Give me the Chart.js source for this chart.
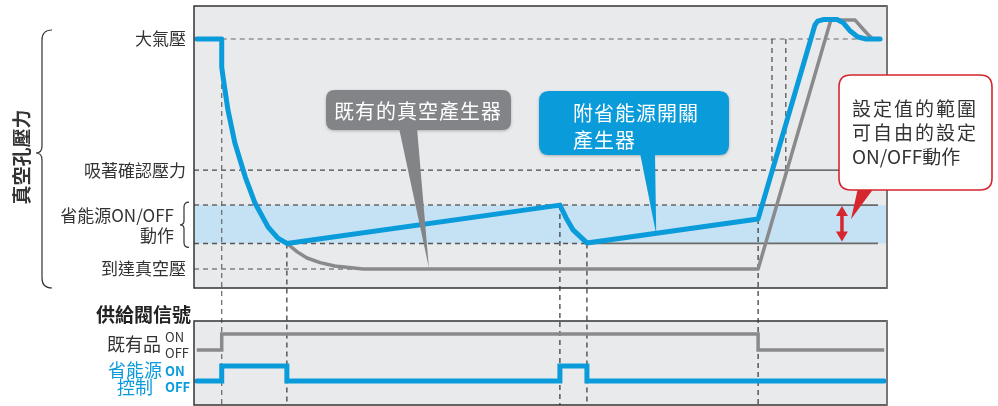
<!DOCTYPE html>
<html lang="zh-Hant">
<head>
    <meta charset="UTF-8">
    <title>省能源真空產生器</title>
    <script src="https://cdn.jsdelivr.net/npm/chart.js"></script>
    <style>
        body { margin: 0; background: #fff; }
        #wrap { width: 998px; height: 406px; }
    </style>
</head>
<body>
<div id="wrap"><canvas id="myChart" width="998" height="406"></canvas></div>
<script>
// time axis: 0..100 (arbitrary units), pressure: kPa relative to 大氣壓 (0)
const blueT = [0.4, 4.0, 4.0, 4.0, 4.2, 4.9, 5.9, 7.4, 8.8, 10.7, 12.1, 13.4, 52.8, 53.7, 54.7, 56.7, 81.4, 89.6, 90.0, 90.8, 92.8, 93.7, 94.7, 95.8, 97.0, 99.0];
const blueP = [0, 0, -6, -11, -15, -27.8, -40.7, -54, -64.2, -73.6, -77.9, -80, -65, -70, -74.7, -79.8, -70.4, 5.5, 7, 7.6, 7.6, 6.3, 3.1, 0.8, 0, 0];

const grayT = [0.4, 4.0, 4.0, 4.0, 4.2, 4.9, 5.9, 7.4, 8.8, 10.7, 12.1, 13.4, 14.9, 16.3, 18.2, 20.3, 24.4, 81.4, 91.9, 95.4, 96.4, 97.3, 97.8];
const grayP = [0, 0, -6, -11, -15, -27.8, -40.7, -54, -64.2, -73.6, -77.9, -80, -83.3, -85.7, -87.5, -88.8, -90, -90, 7.4, 7.4, 4.3, 1.6, 0.4];

// 供給閥信號 (1 = ON, 0 = OFF)
const sigOldT = [0.4, 4.0, 81.4, 99.6];
const sigOldV = [0, 1, 0, 0];
const sigNewT = [0.4, 4.0, 13.4, 52.8, 56.7, 99.6];
const sigNewV = [0, 1, 0, 1, 0, 0];

const levelNames = ['大氣壓', '吸著確認壓力', '到達真空壓'];
const levelValues = [0, -51.3, -90];
const bandHigh = -65;
const bandLow = -80;

// vertical guides: time, pressure where they start
const markT = [4.0, 13.4, 52.8, 56.7, 81.4];
const markP = [0, -80, -65, -80, -70.4];

const BLUE = '#0a9bdb';
const GRAY = '#8a8a8c';
const RED = '#d6262e';
const FONT = '"Noto Sans CJK TC", "Noto Sans", sans-serif';

const toPts = (ts, vs) => ts.map((t, i) => ({x: t, y: vs[i]}));

function line(ctx, x1, y1, x2, y2, color, w, dash) {
    ctx.save();
    ctx.strokeStyle = color;
    ctx.lineWidth = w;
    ctx.setLineDash(dash || []);
    ctx.beginPath();
    ctx.moveTo(x1, y1);
    ctx.lineTo(x2, y2);
    ctx.stroke();
    ctx.restore();
}

function roundBox(ctx, x, y, w, h, r) {
    ctx.beginPath();
    ctx.moveTo(x + r, y);
    ctx.lineTo(x + w - r, y);
    ctx.quadraticCurveTo(x + w, y, x + w, y + r);
    ctx.lineTo(x + w, y + h - r);
    ctx.quadraticCurveTo(x + w, y + h, x + w - r, y + h);
    ctx.lineTo(x + r, y + h);
    ctx.quadraticCurveTo(x, y + h, x, y + h - r);
    ctx.lineTo(x, y + r);
    ctx.quadraticCurveTo(x, y, x + r, y);
    ctx.closePath();
}

function text(ctx, str, x, y, font, color, align, spacing) {
    ctx.save();
    ctx.font = font;
    ctx.fillStyle = color;
    ctx.textAlign = align || 'left';
    ctx.textBaseline = 'middle';
    if (spacing) ctx.letterSpacing = spacing + 'px';
    ctx.fillText(str, x, y);
    ctx.restore();
}

const diagram = {
    id: 'diagram',
    beforeDatasetsDraw(chart) {
        const {ctx, chartArea: a, scales: {x, y, yOld, yNew}} = chart;
        const X = v => x.getPixelForValue(v);
        const Y = v => y.getPixelForValue(v);
        ctx.save();
        // panels
        ctx.fillStyle = '#e9eaec';
        ctx.fillRect(a.left, y.top, a.right - a.left, y.bottom - y.top);
        ctx.fillRect(a.left, yOld.top, a.right - a.left, yNew.bottom - yOld.top);
        // ON/OFF band
        ctx.fillStyle = '#c5e2f5';
        ctx.fillRect(a.left, Y(bandHigh), a.right - a.left, Y(bandLow) - Y(bandHigh));
        ctx.restore();

        const dash = [5, 4];
        const dc = '#4a4a4a';
        line(ctx, X(4.0), Y(0), X(98.3), Y(0), '#666', 1.2, dash);
        line(ctx, a.left, Y(-51.3), X(83.4), Y(-51.3), dc, 1.2, dash);
        line(ctx, X(83.4), Y(-51.3), a.right, Y(-51.3), '#444', 1.2);
        line(ctx, a.left, Y(bandHigh), X(81.4), Y(bandHigh), '#666', 1.5, dash);
        line(ctx, X(81.4), Y(bandHigh), X(98.7), Y(bandHigh), '#6a6a6a', 1.8);
        line(ctx, a.left, Y(bandLow), X(56.7), Y(bandLow), '#555', 1.5, dash);
        line(ctx, X(56.7), Y(bandLow), X(98.7), Y(bandLow), '#6a6a6a', 1.8);
        line(ctx, a.left, Y(-90), X(26.8), Y(-90), dc, 1.2, dash);

        markT.forEach((t, i) => {
            line(ctx, X(t), Y(markP[i]), X(t), a.bottom, i === 0 ? '#666' : '#333', 1.2, dash);
        });
        line(ctx, X(83.4), Y(0), X(83.4), Y(-51.3), dc, 1.2, dash);
        line(ctx, X(85.4), Y(0), X(85.4), Y(-51.3), dc, 1.2, dash);
    },
    afterDatasetsDraw(chart) {
        const {ctx, chartArea: a, scales: {x, y, yOld, yNew}} = chart;
        const X = v => x.getPixelForValue(v);
        const Y = v => y.getPixelForValue(v);

        // panel borders
        ctx.save();
        ctx.strokeStyle = '#333';
        ctx.lineWidth = 1.5;
        ctx.strokeRect(a.left, y.top, a.right - a.left, y.bottom - y.top);
        ctx.strokeRect(a.left, yOld.top, a.right - a.left, yNew.bottom - yOld.top);
        ctx.restore();
        line(ctx, a.right, y.top, a.right, y.bottom, '#777', 2);
        line(ctx, a.right, yOld.top, a.right, yNew.bottom, '#777', 2);

        // 既有的真空產生器 callout
        ctx.save();
        ctx.shadowColor = 'rgba(0,0,0,0.25)';
        ctx.shadowBlur = 3;
        ctx.shadowOffsetY = 1;
        ctx.fillStyle = '#838487';
        roundBox(ctx, 326, 90, 185, 40, 9);
        ctx.fill();
        ctx.shadowColor = 'transparent';
        ctx.beginPath();
        ctx.moveTo(399, 128);
        ctx.lineTo(417, 128);
        ctx.lineTo(X(33.9), Y(-89.6));
        ctx.closePath();
        ctx.fill();
        ctx.restore();
        text(ctx, '既有的真空產生器', 418, 111, '20px ' + FONT, '#fff', 'center', 1);

        // 附省能源開關產生器 callout
        ctx.save();
        ctx.shadowColor = 'rgba(0,0,0,0.25)';
        ctx.shadowBlur = 3;
        ctx.shadowOffsetY = 1;
        ctx.fillStyle = BLUE;
        roundBox(ctx, 539, 91, 190, 64, 10);
        ctx.fill();
        ctx.shadowColor = 'transparent';
        ctx.beginPath();
        ctx.moveTo(640, 153);
        ctx.lineTo(655, 153);
        ctx.lineTo(X(66.7), Y(-76.4));
        ctx.closePath();
        ctx.fill();
        ctx.restore();
        text(ctx, '附省能源開關', 573, 113, '20px ' + FONT, '#fff', 'left', 1);
        text(ctx, '產生器', 573, 140, '20px ' + FONT, '#fff', 'left', 1);

        // red double arrow for the band
        const ax = X(93.5), a1 = Y(bandHigh) + 1, a2 = Y(bandLow) - 2;
        ctx.save();
        ctx.fillStyle = RED;
        line(ctx, ax, a1 + 8, ax, a2 - 8, RED, 3.5);
        ctx.beginPath();
        ctx.moveTo(ax, a1); ctx.lineTo(ax - 6, a1 + 10); ctx.lineTo(ax + 6, a1 + 10); ctx.closePath(); ctx.fill();
        ctx.beginPath();
        ctx.moveTo(ax, a2); ctx.lineTo(ax - 6, a2 - 10); ctx.lineTo(ax + 6, a2 - 10); ctx.closePath(); ctx.fill();
        ctx.restore();
    },
    afterDraw(chart) {
        const {ctx, scales: {x, y, yOld, yNew}} = chart;
        const Y = v => y.getPixelForValue(v);

        // 設定值的範圍 callout
        ctx.save();
        ctx.fillStyle = RED;
        ctx.beginPath();
        ctx.moveTo(858, 188);
        ctx.lineTo(874, 188);
        ctx.lineTo(x.getPixelForValue(94.8), Y(-70.5));
        ctx.closePath();
        ctx.fill();
        ctx.fillStyle = '#fff';
        ctx.strokeStyle = RED;
        ctx.lineWidth = 1.6;
        roundBox(ctx, 839, 75, 153, 115, 12);
        ctx.fill();
        ctx.stroke();
        ctx.restore();
        const rf = '19px ' + FONT;
        text(ctx, '設定值的範圍', 852, 109, rf, '#333', 'left', 2);
        text(ctx, '可自由的設定', 852, 133, rf, '#333', 'left', 2);
        text(ctx, 'ON/OFF動作', 852, 157, rf, '#333', 'left', 0);

        // pressure level labels
        const lf = '17px ' + FONT;
        levelNames.forEach((name, i) => {
            text(ctx, name, 186, Y(levelValues[i]), lf, '#333', 'right');
        });
        text(ctx, '省能源ON/OFF', 174, Y(bandHigh) + 10, lf, '#333', 'right');
        text(ctx, '動作', 174, Y(bandLow) - 8, lf, '#333', 'right');

        ctx.save();
        ctx.strokeStyle = '#333';
        ctx.lineWidth = 1.2;
        // small brace
        const b1 = Y(bandHigh) - 3, b2 = Y(bandLow) + 4, bm = (b1 + b2) / 2;
        ctx.beginPath();
        ctx.moveTo(189, b1);
        ctx.quadraticCurveTo(184, b1, 184, b1 + 5);
        ctx.lineTo(184, bm - 4);
        ctx.quadraticCurveTo(184, bm, 180, bm);
        ctx.quadraticCurveTo(184, bm, 184, bm + 4);
        ctx.lineTo(184, b2 - 5);
        ctx.quadraticCurveTo(184, b2, 189, b2);
        ctx.stroke();
        // big brace
        ctx.beginPath();
        ctx.moveTo(52, 30);
        ctx.quadraticCurveTo(42, 30, 42, 40);
        ctx.lineTo(42, 146);
        ctx.quadraticCurveTo(42, 153, 36, 153);
        ctx.quadraticCurveTo(42, 153, 42, 160);
        ctx.lineTo(42, 278);
        ctx.quadraticCurveTo(42, 288, 52, 288);
        ctx.stroke();
        // axis title
        ctx.translate(22, 157);
        ctx.rotate(-Math.PI / 2);
        ctx.font = 'bold 19px ' + FONT;
        ctx.fillStyle = '#333';
        ctx.textAlign = 'center';
        ctx.textBaseline = 'middle';
        ctx.fillText('真空孔壓力', 0, 0);
        ctx.restore();

        // signal labels
        text(ctx, '供給閥信號', 191, 315, 'bold 19px ' + FONT, '#222', 'right');
        text(ctx, '既有品', 161, 344, '18px ' + FONT, '#333', 'right');
        text(ctx, 'ON', 165, yOld.getPixelForValue(1) + 3, '13px ' + FONT, '#333', 'left');
        text(ctx, 'OFF', 165, yOld.getPixelForValue(0) + 3, '13px ' + FONT, '#333', 'left');
        text(ctx, '省能源', 135, 370, '18px ' + FONT, BLUE, 'center');
        text(ctx, '控制', 135, 387, '18px ' + FONT, BLUE, 'center');
        text(ctx, 'ON', 165, yNew.getPixelForValue(1) + 5, 'bold 13px ' + FONT, BLUE, 'left');
        text(ctx, 'OFF', 165, yNew.getPixelForValue(0) + 6, 'bold 13px ' + FONT, BLUE, 'left');
    }
};

var ctx = document.getElementById('myChart').getContext('2d');
var myChart = new Chart(ctx, {
    type: 'line',
    data: {
        datasets: [
            {
                label: '附省能源開關產生器',
                data: toPts(blueT, blueP),
                yAxisID: 'y',
                borderColor: BLUE,
                borderWidth: 5,
                borderJoinStyle: 'round',
                borderCapStyle: 'round',
                pointRadius: 0,
                order: 1
            },
            {
                label: '既有的真空產生器',
                data: toPts(grayT, grayP),
                yAxisID: 'y',
                borderColor: GRAY,
                borderWidth: 3.5,
                borderJoinStyle: 'round',
                pointRadius: 0,
                order: 2
            },
            {
                label: '既有品',
                data: toPts(sigOldT, sigOldV),
                yAxisID: 'yOld',
                stepped: 'before',
                borderColor: GRAY,
                borderWidth: 3.5,
                pointRadius: 0,
                order: 3
            },
            {
                label: '省能源控制',
                data: toPts(sigNewT, sigNewV),
                yAxisID: 'yNew',
                stepped: 'before',
                borderColor: BLUE,
                borderWidth: 5,
                borderCapStyle: 'round',
                pointRadius: 0,
                order: 1
            }
        ]
    },
    options: {
        responsive: false,
        animation: false,
        layout: { padding: { left: 194, right: 111, top: 6, bottom: 1 } },
        plugins: { legend: { display: false }, tooltip: { enabled: false } },
        scales: {
            x: { type: 'linear', min: 0, max: 100, display: false },
            y: { position: 'left', stack: 'panel', stackWeight: 282, weight: 4, min: -97.43, max: 12.91, display: false },
            yGap: { position: 'left', stack: 'panel', stackWeight: 33, weight: 3, min: 0, max: 1, display: false },
            yOld: { position: 'left', stack: 'panel', stackWeight: 42, weight: 2, min: -0.8125, max: 1.8125, display: false },
            yNew: { position: 'left', stack: 'panel', stackWeight: 42, weight: 1, min: -1.6, max: 1.2, display: false }
        }
    },
    plugins: [diagram]
});
</script>
</body>
</html>
